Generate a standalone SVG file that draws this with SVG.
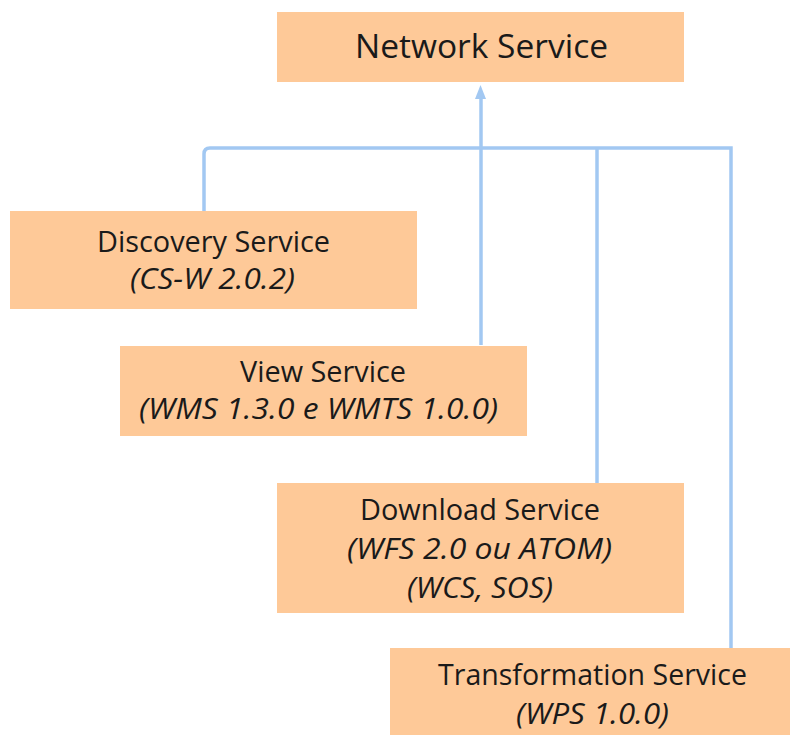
<svg xmlns="http://www.w3.org/2000/svg" width="790" height="735" viewBox="0 0 790 735">
<defs>
<style>
.box{fill:#FEC998;}
.t{font-family:"Open Sans","Liberation Sans",sans-serif;font-size:28.5px;fill:#1a1a1a;text-anchor:middle;}
.i{font-style:italic;}
.title{font-size:33.5px;}
.c{fill:none;stroke:#A2C8F2;stroke-width:3.5;}
</style>
</defs>
<rect width="790" height="735" fill="#ffffff"/>
<g id="connectors">
<path class="c" d="M204 211 V154 Q204 148 210 148 H731 V648"/>
<path class="c" d="M597 148 V483"/>
<path class="c" d="M481 345 V97"/>
<path d="M475 99 L480.5 85 L486 99 Z" fill="#A2C8F2"/>
</g>
<g id="network">
<rect class="box" x="277" y="12" width="407" height="70"/>
<text class="t title" x="481.5" y="58" textLength="253" lengthAdjust="spacingAndGlyphs">Network Service</text>
</g>
<g id="discovery">
<rect class="box" x="10" y="211" width="407" height="98"/>
<text class="t" x="213.5" y="252" textLength="233" lengthAdjust="spacingAndGlyphs">Discovery Service</text>
<text class="t i" x="212.5" y="289" textLength="165" lengthAdjust="spacingAndGlyphs">(CS-W 2.0.2)</text>
</g>
<g id="view">
<rect class="box" x="120" y="346" width="407" height="90"/>
<text class="t" x="323" y="382" textLength="166" lengthAdjust="spacingAndGlyphs">View Service</text>
<text class="t i" x="318.5" y="419" textLength="359" lengthAdjust="spacingAndGlyphs">(WMS 1.3.0 e WMTS 1.0.0)</text>
</g>
<g id="download">
<rect class="box" x="277" y="483" width="407" height="130"/>
<text class="t" x="480" y="520" textLength="240" lengthAdjust="spacingAndGlyphs">Download Service</text>
<text class="t i" x="479.5" y="559" textLength="265" lengthAdjust="spacingAndGlyphs">(WFS 2.0 ou ATOM)</text>
<text class="t i" x="480" y="598" textLength="146" lengthAdjust="spacingAndGlyphs">(WCS, SOS)</text>
</g>
<g id="transformation">
<rect class="box" x="390" y="648" width="400" height="87"/>
<text class="t" x="592.5" y="685" textLength="309" lengthAdjust="spacingAndGlyphs">Transformation Service</text>
<text class="t i" x="592.5" y="724" textLength="153" lengthAdjust="spacingAndGlyphs">(WPS 1.0.0)</text>
</g>
</svg>
